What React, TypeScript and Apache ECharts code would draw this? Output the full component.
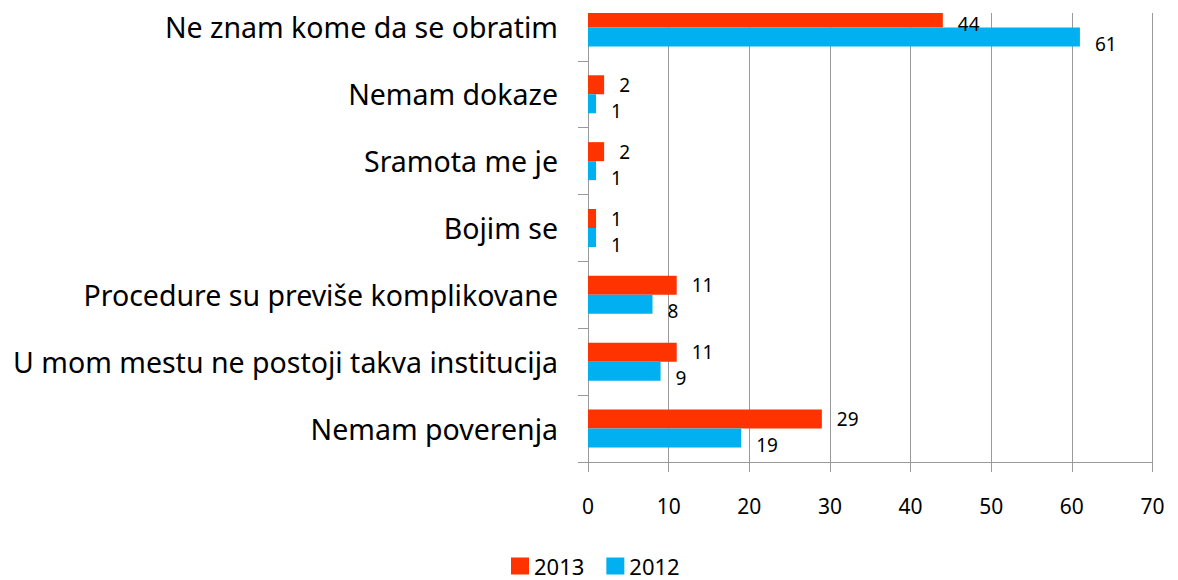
import React, { useEffect, useRef } from "react";
import * as echarts from "echarts";

const categories = [
  "Ne znam kome da se obratim",
  "Nemam dokaze",
  "Sramota me je",
  "Bojim se",
  "Procedure su previše komplikovane",
  "U mom mestu ne postoji takva institucija",
  "Nemam poverenja",
];
const values2013 = [44, 2, 2, 1, 11, 11, 29];
const values2012 = [61, 1, 1, 1, 8, 9, 19];
const xTicks = { min: 0, max: 70, interval: 10 };

const FONT = "'Noto Sans', sans-serif";

export default function App() {
  const ref = useRef<HTMLDivElement>(null);
  useEffect(() => {
    document.body.style.margin = "0";
    const chart = echarts.init(ref.current!, undefined, { renderer: "svg" });
    const labelStyle = (offY: number) => ({
      show: true,
      position: "right" as const,
      distance: 15,
      offset: [0, offY],
      fontFamily: FONT,
      fontSize: 19,
      lineHeight: 17,
      color: "#000",
    });
    chart.setOption({
      animation: false,
      textStyle: { fontFamily: FONT },
      grid: { left: 588, right: 25.5, top: 0, bottom: 118, containLabel: false },
      legend: {
        data: ["2013", "2012"],
        left: 511,
        top: 561,
        padding: 0,
        itemWidth: 18,
        itemHeight: 17,
        itemGap: 22,
        icon: "rect",
        textStyle: { fontFamily: FONT, fontSize: 22, color: "#000", padding: [0, 0, 0, 0] },
      },
      xAxis: {
        type: "value",
        min: xTicks.min,
        max: xTicks.max,
        interval: xTicks.interval,
        axisLine: { show: true, lineStyle: { color: "#9a9a9a", width: 1 } },
        axisTick: { show: true, length: 10, lineStyle: { color: "#9a9a9a" } },
        splitLine: { show: true, lineStyle: { color: "#9a9a9a", width: 1 } },
        axisLabel: { margin: 33, fontFamily: FONT, fontSize: 21, color: "#000" },
      },
      yAxis: {
        type: "category",
        inverse: true,
        data: categories,
        axisLine: { show: true, lineStyle: { color: "#9a9a9a", width: 1 } },
        axisTick: { show: true, length: 10, lineStyle: { color: "#9a9a9a" } },
        axisLabel: { margin: 30, fontFamily: FONT, fontSize: 28.5, color: "#000" },
      },
      series: [
        {
          name: "2013",
          type: "bar",
          data: values2013.map((v, i) =>
            i === 0 ? { value: v, label: { offset: [0, 6] } } : v
          ),
          itemStyle: { color: "#FF3300" },
          barWidth: 19,
          barGap: "0%",
          label: labelStyle(0),
        },
        {
          name: "2012",
          type: "bar",
          data: values2012,
          itemStyle: { color: "#00B0F0" },
          barWidth: 19,
          barGap: "0%",
          label: labelStyle(7),
        },
      ],
      graphic: [
        {
          type: "rect",
          z: 100,
          shape: { x: 575, y: 0, width: 603, height: 19 },
          style: { fill: "#fff" },
        },
      ],
    });
    return () => chart.dispose();
  }, []);
  return (
    <div
      ref={ref}
      style={{ width: 1178, height: 586, position: "relative", top: -6 }}
    />
  );
}
